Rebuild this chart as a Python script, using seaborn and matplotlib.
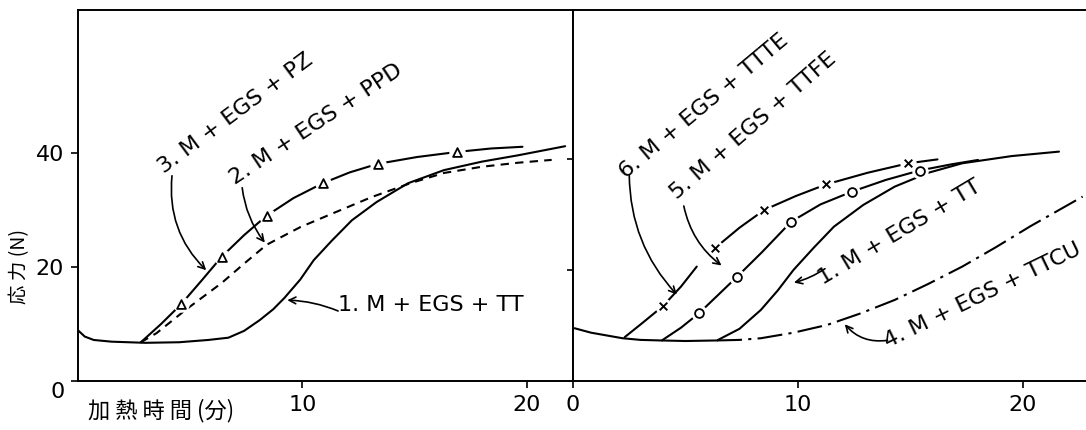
import matplotlib
matplotlib.use("Agg")
import matplotlib.pyplot as plt
import pandas as pd
import seaborn as sns

# ---- left panel: heating time (min) vs stress (N) ----
# 1. M+EGS+TT
l1_t = [0, 0.3, 0.7, 1.5, 3.0, 4.5, 5.8, 6.7, 7.4, 8.1, 8.7, 9.2, 9.9, 10.5, 11.3,
        12.2, 13.3, 14.7, 16.3, 18.0, 19.6, 21.7]
l1_f = [8.9, 7.8, 7.2, 6.9, 6.7, 6.8, 7.2, 7.6, 8.8, 10.7, 12.6, 14.6, 17.8, 21.2, 24.6,
        28.2, 31.4, 34.7, 37.0, 38.5, 39.6, 41.2]
# 2. M+EGS+PPD (dashed)
l2_t = [2.8, 3.5, 4.8, 6.4, 7.4, 8.4, 9.9, 11.4, 13.1, 14.8, 16.3, 18.0, 19.6, 21.1]
l2_f = [6.8, 8.4, 12.5, 17.2, 20.6, 23.9, 27.0, 29.5, 32.3, 34.7, 36.5, 37.6, 38.3, 38.8]
# 3. M+EGS+PZ (triangles)
l3_t = [2.8, 3.7, 4.6, 5.5, 6.4, 7.4, 8.4, 9.6, 10.9, 12.1, 13.35, 15.1, 16.9, 18.4, 19.8]
l3_f = [6.8, 10.0, 13.5, 17.6, 21.8, 25.6, 29.0, 32.1, 34.7, 36.6, 38.1, 39.3, 40.2, 40.8, 41.1]
l3_mark_t = [4.6, 6.4, 8.4, 10.9, 13.35, 16.9]
l3_mark_f = [13.5, 21.8, 29.0, 34.7, 38.1, 40.2]

# ---- right panel ----
# 1. M+EGS+TT (incl. common start)
r1_t = [0.07, 0.8, 1.5, 2.2, 3.0, 3.9, 5.0, 6.4, 7.4, 8.35, 9.1, 9.8, 10.7, 11.6,
        12.9, 14.3, 15.8, 17.3, 19.5, 21.6]
r1_f = [9.5, 8.7, 8.2, 7.7, 7.4, 7.3, 7.2, 7.3, 9.4, 12.8, 16.3, 20.0, 24.0, 27.8,
        31.7, 35.0, 37.5, 39.2, 40.5, 41.3]
# 4. M+EGS+TTCU (dash-dot)
r4_t = [6.4, 7.4, 8.35, 9.8, 11.3, 12.8, 14.3, 15.8, 17.3, 18.8, 20.3, 22.65]
r4_f = [7.3, 7.4, 7.7, 8.7, 10.1, 12.2, 14.6, 17.5, 20.6, 24.1, 27.8, 33.2]
# 5. M+EGS+TTFE (circles)
r5_t = [3.95, 4.8, 5.6, 6.4, 7.3, 8.4, 9.7, 11.0, 12.4, 13.9, 15.4, 16.8, 18.0]
r5_f = [7.3, 9.6, 12.2, 15.3, 18.8, 23.2, 28.7, 31.8, 34.1, 36.2, 37.9, 39.0, 39.8]
r5_mark_t = [5.6, 7.3, 9.7, 12.4, 15.4]
r5_mark_f = [12.2, 18.8, 28.7, 34.1, 37.9]
# 6. M+EGS+TTTE (crosses), drawn in two pieces
r6a_t = [2.3, 3.1, 4.0, 4.8, 5.5]
r6a_f = [7.9, 10.5, 13.5, 17.0, 20.6]
r6b_t = [6.3, 7.4, 8.5, 9.9, 11.25, 13.1, 14.9, 16.2]
r6b_f = [23.9, 27.6, 30.8, 33.3, 35.4, 37.5, 39.2, 39.9]
r6_mark_t = [4.0, 6.3, 8.5, 11.25, 14.9]
r6_mark_f = [13.5, 23.9, 30.8, 35.4, 39.2]


def to_long(pieces):
    frames = []
    for curve, seg, t, f in pieces:
        frames.append(pd.DataFrame({"t": t, "f": f, "curve": curve, "seg": seg}))
    return pd.concat(frames, ignore_index=True)


left = to_long([("1", "1", l1_t, l1_f), ("2", "2", l2_t, l2_f), ("3", "3", l3_t, l3_f)])
right = to_long([("1", "1", r1_t, r1_f), ("4", "4", r4_t, r4_f), ("5", "5", r5_t, r5_f),
                 ("6", "6a", r6a_t, r6a_f), ("6", "6b", r6b_t, r6b_f)])

sns.set_theme(style="white")
plt.rcParams['font.family'] = ['DejaVu Sans', 'Noto Sans CJK JP']
plt.rcParams['text.color'] = 'black'
cjk = ['Noto Sans CJK JP', 'DejaVu Sans']

W, H = 1086, 430
fig = plt.figure(figsize=(W / 100, H / 100), dpi=100)
axL = fig.add_axes([78 / W, 1 - 381 / H, (573 - 78) / W, 371 / H])
axR = fig.add_axes([573 / W, 1 - 381 / H, (W - 573) / W, 371 / H])

dashes = {"1": "", "2": (4, 3), "3": "", "4": (12, 3, 1.5, 3), "5": "", "6": ""}
sns.lineplot(data=left, x="t", y="f", style="curve", units="seg", estimator=None,
             dashes=dashes, color="black", lw=1.5, legend=False, sort=False, ax=axL)
sns.lineplot(data=right, x="t", y="f", style="curve", units="seg", estimator=None,
             dashes=dashes, color="black", lw=1.5, legend=False, sort=False, ax=axR)

# markers with a small white gap round them
for ax, mt, mf, m in [(axL, l3_mark_t, l3_mark_f, "^"), (axR, r5_mark_t, r5_mark_f, "o"),
                      (axR, r6_mark_t, r6_mark_f, "x")]:
    sns.scatterplot(x=mt, y=mf, s=140, color="white", linewidth=0, marker="o", ax=ax, zorder=3)
    if m == "x":
        sns.scatterplot(x=mt, y=mf, s=30, color="black", linewidth=1.4, marker="x", ax=ax, zorder=4)
    else:
        sns.scatterplot(x=mt, y=mf, s=40, facecolor="white", edgecolor="black",
                        linewidth=1.3, marker=m, ax=ax, zorder=4)

for ax in (axL, axR):
    ax.set_xlabel("")
    ax.set_ylabel("")
    for sp in ax.spines.values():
        sp.set_linewidth(1.4)
        sp.set_color("black")
    ax.tick_params(direction="out", length=5, width=1.2, labelsize=16, pad=5,
                   colors="black", left=True, bottom=True)

axL.set_xlim(0, 22.05)
axL.set_ylim(0, 65.1)
axL.set_xticks([10, 20])
axL.set_yticks([0, 20, 40])
axL.set_yticklabels(["", "20", "40"])
axL.annotate("0", xy=(0, 0), xytext=(-15, -8), textcoords="offset points",
             ha="center", va="center", fontsize=16)

axR.set_xlim(0, 22.8)
axR.set_ylim(0, 66.8)
axR.set_xticks([0, 10, 20])
axR.set_yticks([20, 40])
axR.set_yticklabels([])
axR.tick_params(axis="y", length=4)
axR.spines["right"].set_visible(False)

# curve labels and arrows
txt = dict(fontsize=16, ha="center", va="center", rotation_mode="anchor")
arr = dict(arrowstyle="->", lw=1.2, color="black")

axL.text(7.0, 47, "3. M + EGS + PZ", rotation=36.6, **txt)
axL.text(10.6, 45, "2. M + EGS + PPD", rotation=33.5, **txt)
axL.text(15.7, 13.3, "1. M + EGS + TT", **txt)
axL.annotate("", xy=(5.8, 19.1), xytext=(4.2, 36.5),
             arrowprops=dict(connectionstyle="arc3,rad=0.25", **arr))
axL.annotate("", xy=(8.4, 23.9), xytext=(7.3, 34.4),
             arrowprops=dict(connectionstyle="arc3,rad=0.15", **arr))
axL.annotate("", xy=(9.2, 14.2), xytext=(11.7, 12.1),
             arrowprops=dict(connectionstyle="arc3,rad=0.1", **arr))

axR.text(5.8, 49.5, "6. M + EGS + TTTE", rotation=39.9, **txt)
axR.text(8.0, 46, "5. M + EGS + TTFE", rotation=41, **txt)
axR.text(14.5, 26.8, "1. M + EGS + TT", rotation=30.8, **txt)
axR.text(18.2, 15.5, "4. M + EGS + TTCU", rotation=25.9, **txt)
axR.annotate("", xy=(4.7, 15.2), xytext=(2.5, 37.5),
             arrowprops=dict(connectionstyle="arc3,rad=0.2", **arr))
axR.annotate("", xy=(6.7, 20.5), xytext=(4.9, 32.0),
             arrowprops=dict(connectionstyle="arc3,rad=0.2", **arr))
axR.annotate("", xy=(9.7, 17.6), xytext=(11.3, 20.5),
             arrowprops=dict(connectionstyle="arc3,rad=-0.1", **arr))
axR.annotate("", xy=(12.0, 10.6), xytext=(14.1, 7.4),
             arrowprops=dict(connectionstyle="arc3,rad=-0.3", **arr))

fig.text(20 / W, 1 - 266 / H, "応 力 (N)", rotation=90, ha="center", va="center",
         fontsize=14, family=cjk)
fig.text(88 / W, 1 - 411 / H, "加 熱 時 間 (分)", ha="left", va="center",
         fontsize=16, family=cjk)

fig.savefig("out.png", dpi=100)
